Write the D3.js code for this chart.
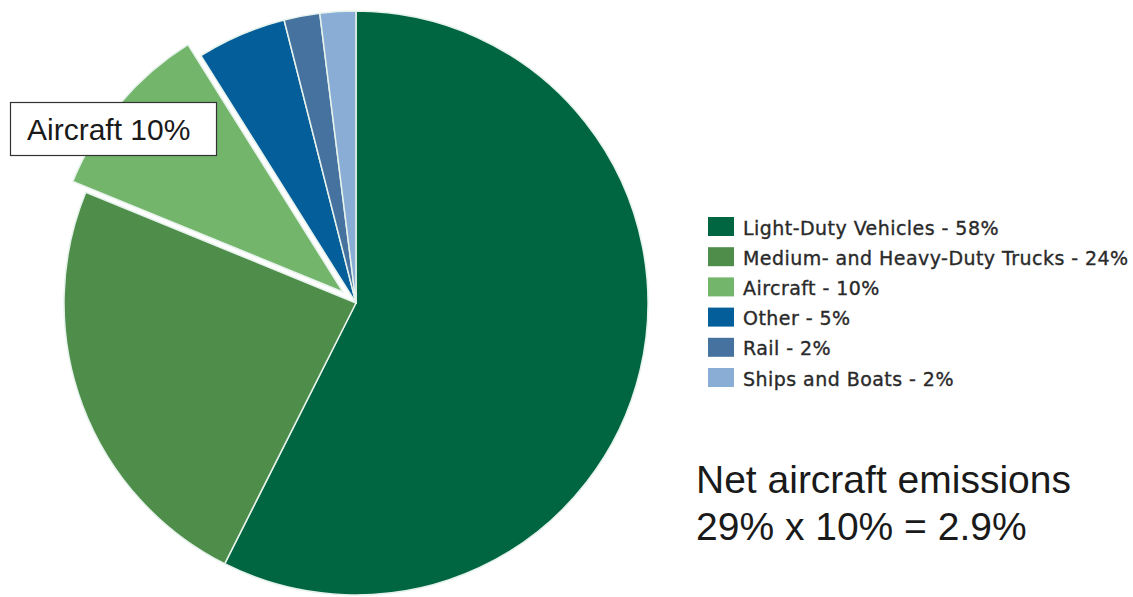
<!DOCTYPE html>
<html>
<head>
<meta charset="utf-8">
<script src="https://cdn.jsdelivr.net/npm/d3@7"></script>
<style>
  html, body { margin: 0; padding: 0; background: #fff; }
  svg { display: block; }
</style>
</head>
<body>
<svg id="chart" width="1133" height="597"></svg>
<script>
// Transportation sector emissions by source (percent)
const categories = ["Light-Duty Vehicles", "Medium- and Heavy-Duty Trucks", "Aircraft", "Other", "Rail", "Ships and Boats"];
const shares = [58, 24, 10, 5, 2, 2];
const colors = ["#006641", "#4f8e4a", "#73b56b", "#035e9a", "#45729f", "#89add4"];
const highlighted = "Aircraft";
const calloutText = "Aircraft 10%";
const noteLines = ["Net aircraft emissions", "29% x 10% = 2.9%"];

const data = categories.map((name, i) => ({ name, value: shares[i], color: colors[i] }));

const svg = d3.select("#chart");
const cx = 356, cy = 303, radius = 292, explode = 17;

const pie = d3.pie().value(d => d.value).sort(null);
const arc = d3.arc().innerRadius(0).outerRadius(radius);

const g = svg.append("g").attr("transform", `translate(${cx},${cy})`);
g.selectAll("path")
  .data(pie(data))
  .join("path")
  .attr("d", arc)
  .attr("fill", d => d.data.color)
  .attr("stroke", "#e6f2ec")
  .attr("stroke-width", 1.5)
  .attr("stroke-linejoin", "round")
  .attr("transform", d => {
    if (d.data.name !== highlighted) return null;
    const mid = (d.startAngle + d.endAngle) / 2;
    return `translate(${explode * Math.sin(mid)},${-explode * Math.cos(mid)})`;
  });

// Callout box for the pulled-out slice
const callout = svg.append("g");
callout.append("rect")
  .attr("x", 10.5).attr("y", 102.5).attr("width", 206).attr("height", 53)
  .attr("fill", "#fff").attr("stroke", "#333").attr("stroke-width", 1.2);
callout.append("text")
  .attr("x", 27).attr("y", 140)
  .attr("font-family", "Liberation Sans, Arial, sans-serif")
  .attr("font-size", 30).attr("fill", "#1a1a1a")
  .text(calloutText);

// Legend
const legend = svg.append("g").attr("transform", "translate(708,217)");
const rows = legend.selectAll("g").data(data).join("g")
  .attr("transform", (d, i) => `translate(0,${i * 30.2})`);
rows.append("rect")
  .attr("width", 26).attr("height", 19)
  .attr("fill", d => d.color);
rows.append("text")
  .attr("x", 35).attr("y", 17.5)
  .attr("font-family", "DejaVu Sans, sans-serif")
  .attr("font-size", 19).attr("letter-spacing", 0.45)
  .attr("fill", "#2a2a2a").attr("stroke", "#2a2a2a").attr("stroke-width", 0.35)
  .text(d => `${d.name} - ${d.value}%`);

// Note text
const note = svg.append("text")
  .attr("font-family", "Liberation Sans, Arial, sans-serif")
  .attr("font-size", 39).attr("fill", "#1a1a1a");
note.selectAll("tspan").data(noteLines).join("tspan")
  .attr("x", 696).attr("y", (d, i) => 493 + i * 47)
  .text(d => d);
</script>
</body>
</html>
